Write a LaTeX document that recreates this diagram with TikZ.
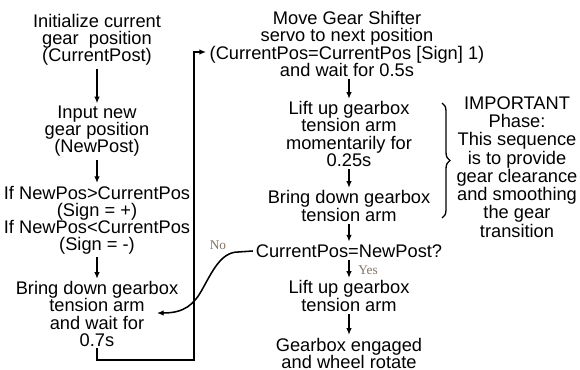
\documentclass[tikz,border=0pt]{standalone}
\usepackage{fontspec}
\setmainfont{Liberation Sans}
\newfontfamily\lblfont{Liberation Serif}
\usetikzlibrary{arrows.meta,decorations.pathreplacing,calc}
\definecolor{lblc}{HTML}{857565}
\begin{document}
\begin{tikzpicture}[x=0.75pt,y=-0.75pt,
  txt/.style={align=center,inner sep=2pt,font=\fontsize{13.7pt}{12.8pt}\selectfont},
  imptxt/.style={align=center,inner sep=0pt,font=\fontsize{13.7pt}{13.7pt}\selectfont},
  arr/.style={-{Latex[length=5pt,width=4.2pt]},line width=1.15pt},
  lbl/.style={font=\lblfont\fontsize{10pt}{10pt}\selectfont,text=lblc,inner sep=0pt}]
\fill[white] (0,0) rectangle (580,370);
\useasboundingbox (0,0) rectangle (580,370);

% left column
\node[txt] (init) at (97,40) {Initialize current\\gear\ \ position\\(CurrentPost)};
\node[txt] (input) at (97,131.5) {Input new\\gear position\\(NewPost)};
\node[txt] (ifn) at (97,220) {If NewPos>CurrentPos\\(Sign = +)\\If NewPos<CurrentPos\\(Sign = -)};
\node[txt] (bdl) at (97,314) {Bring down gearbox\\tension arm\\and wait for\\0.7s};

% right column
\node[txt] (move) at (347,44) {Move Gear Shifter\\servo to next position\\(CurrentPos=CurrentPos [Sign] 1)\\and wait for 0.5s};
\node[txt] (lift) at (349,134) {Lift up gearbox\\tension arm\\momentarily for\\0.25s};
\node[txt] (bdr) at (349,206) {Bring down gearbox\\tension arm};
\node[txt] (check) at (349,251) {CurrentPos=NewPost?};
\node[txt] (lift2) at (349,296) {Lift up gearbox\\tension arm};
\node[txt] (gear) at (349,353) {Gearbox engaged\\and wheel rotate};

% note
\node[imptxt] (imp) at (517,167) {IMPORTANT\\Phase:\\This sequence\\is to provide\\gear clearance\\and smoothing\\the gear\\transition};
\coordinate (brT) at (442,103);
\coordinate (brB) at (442,218);
\draw[line width=1pt,decorate,decoration={brace,amplitude=6pt}] (brT) -- (brB);

% vertical arrows
\draw[arr] (init) -- (input);
\draw[arr] (input) -- (ifn);
\draw[arr] (ifn) -- (bdl);
\draw[arr] (move.south -| lift.north) -- (lift);
\draw[arr] (lift) -- (bdr);
\draw[arr] (bdr) -- (check);
\draw[arr] (check) -- (lift2);
\draw[arr] (lift2) -- (gear);

% loop back
\coordinate (lpB) at (194,360);
\coordinate (lpC) at (194,52);
\coordinate (mvin) at (206,52);
\draw[arr,line cap=rect] (bdl.south) |- (lpB) -- (lpC) -- (mvin);

% no branch
\coordinate (notip) at (157,313);
\draw[arr] (check.west) -- (238,252) .. controls (221,252) and (212,272) .. (203,288) .. controls (194,305) and (184,313) .. (notip);

% labels
\node[lbl] (nolbl) at (218,245) {No};
\node[lbl] (yeslbl) at (368,270) {Yes};
\end{tikzpicture}
\end{document}
